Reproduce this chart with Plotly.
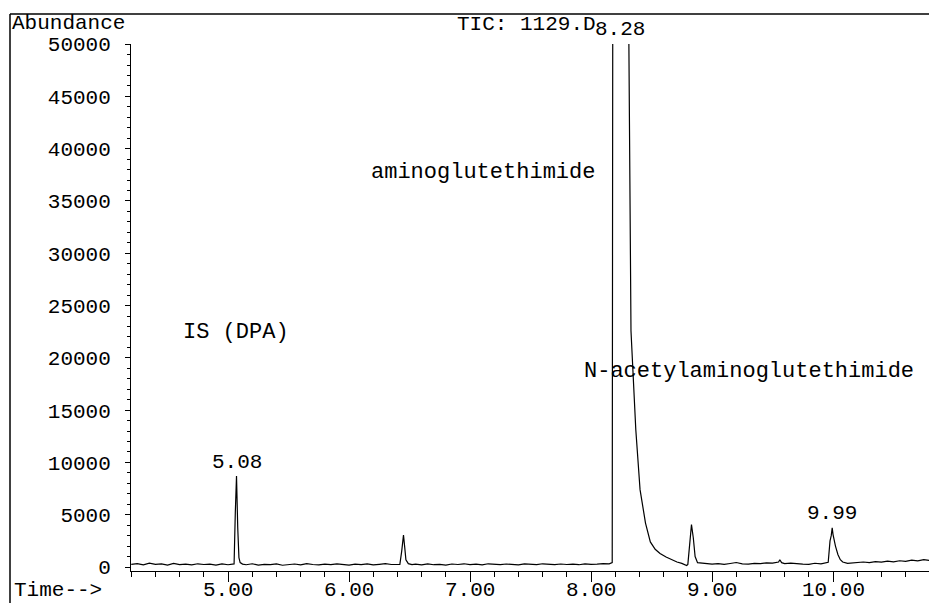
import plotly.graph_objects as go

# ---- data (retention time in min, abundance) ----
time_min = [
    4.20, 4.25, 4.30, 4.35, 4.40, 4.45, 4.50, 4.55, 4.60, 4.65, 4.70, 4.75, 4.80, 4.85, 4.90, 4.95,
    5.00, 5.04, 5.05, 5.06, 5.07, 5.08, 5.09, 5.10, 5.12, 5.15, 5.20, 5.25, 5.30, 5.35, 5.40, 5.45,
    5.50, 5.55, 5.60, 5.65, 5.70, 5.75, 5.80, 5.85, 5.90, 5.95, 6.00, 6.05, 6.10, 6.15, 6.20, 6.25,
    6.30, 6.35, 6.40, 6.42, 6.435, 6.45, 6.46, 6.47, 6.49, 6.52, 6.55, 6.60, 6.65, 6.70, 6.75, 6.80,
    6.85, 6.90, 6.95, 7.00, 7.05, 7.10, 7.15, 7.20, 7.25, 7.30, 7.35, 7.40, 7.45, 7.50, 7.55, 7.60,
    7.65, 7.70, 7.75, 7.80, 7.85, 7.90, 7.95, 8.00, 8.05, 8.10, 8.15, 8.175, 8.18, 8.19, 8.25, 8.28,
    8.29, 8.30, 8.33, 8.37, 8.405, 8.45, 8.49, 8.53, 8.57, 8.62, 8.67, 8.71, 8.75, 8.79, 8.80, 8.815,
    8.83, 8.845, 8.86, 8.88, 8.92, 8.96, 9.00, 9.05, 9.10, 9.15, 9.20, 9.25, 9.30, 9.35, 9.40, 9.45,
    9.50, 9.55, 9.56, 9.575, 9.60, 9.65, 9.70, 9.75, 9.80, 9.85, 9.90, 9.94, 9.96, 9.975, 9.985, 9.993,
    10.00, 10.02, 10.04, 10.06, 10.08, 10.12, 10.18, 10.25, 10.30, 10.35, 10.40, 10.45, 10.50, 10.55,
    10.60, 10.65, 10.70, 10.75, 10.80,
]
abundance = [
    250, 320, 210, 380, 260, 300, 190, 340, 230, 280, 200, 310, 240, 270, 180, 300,
    220, 260, 300, 5200, 8700, 3800, 900, 420, 280, 220, 310, 190, 260, 230, 300, 170,
    250, 290, 200, 330, 240, 210, 280, 230, 300, 260, 190, 270, 230, 300, 210, 260,
    320, 240, 200, 250, 1500, 3050, 1900, 700, 320, 230, 280, 200, 300, 220, 260, 180,
    290, 240, 310, 230, 270, 200, 310, 250, 220, 290, 240, 200, 300, 250, 230, 310,
    260, 220, 290, 240, 270, 220, 300, 250, 280, 330, 300, 420, 60000, 150000, 200000, 210000,
    150000, 70000, 22600, 13100, 7400, 4200, 2400, 1700, 1300, 950, 650, 480, 350, 150, 250, 2200,
    4050, 2800, 1000, 420, 350, 300, 280, 320, 260, 340, 430, 300, 280, 350, 330, 400,
    380, 480, 700, 420, 330, 380, 300, 280, 250, 360, 300, 420, 450, 2500, 3000, 3750,
    3100, 2000, 1200, 700, 480, 350, 400, 480, 430, 520, 470, 560, 500, 600,
    540, 650, 580, 700, 620,
]

y_ticks = [0, 5000, 10000, 15000, 20000, 25000, 30000, 35000, 40000, 45000, 50000]
y_tick_text = ["0", "5000", "10000", "15000", "20000", "25000", "30000", "35000", "40000", "45000", "50000"]
x_ticks = [5.0, 6.0, 7.0, 8.0, 9.0, 10.0]
x_tick_text = ["5.00", "6.00", "7.00", "8.00", "9.00", "10.00"]

peak_labels = [("5.08", 5.07), ("8.28", 8.24), ("9.99", 9.99)]

FONT = "Liberation Mono, Courier New, monospace"
TICK_SIZE = 21
TEXT_SIZE = 22
W, H = 929, 603
L, R, T, B = 131, 929, 44, 571  # plot area in pixels


def px(x):
    return (x - L) / (R - L)


def py(y):
    return (B - y) / (B - T)


fig = go.Figure()
fig.add_trace(go.Scatter(
    x=time_min, y=abundance, mode="lines",
    line=dict(color="black", width=1.2), hoverinfo="skip", showlegend=False,
))

fig.update_layout(
    width=W, height=H,
    margin=dict(l=L, r=W - R, t=T, b=H - B, pad=0, autoexpand=False),
    paper_bgcolor="white", plot_bgcolor="white",
    font=dict(family=FONT, size=TICK_SIZE, color="black"),
    showlegend=False,
)

fig.update_xaxes(
    range=[4.198, 10.793], automargin=False,
    tickvals=x_ticks, showticklabels=False,
    ticks="outside", ticklen=10, tickwidth=1, tickcolor="black",
    minor=dict(dtick=0.2, tick0=0, ticks="outside", ticklen=5, tickcolor="black"),
    showline=True, linecolor="black", linewidth=1,
    showgrid=False, zeroline=False,
)
fig.update_yaxes(
    range=[-380, 50010], automargin=False,
    tickvals=y_ticks, ticktext=y_tick_text,
    ticks="outside", ticklen=5, tickwidth=1, tickcolor="black",
    minor=dict(dtick=1000, tick0=0, ticks="outside", ticklen=3, tickcolor="black"),
    showline=True, linecolor="black", linewidth=1,
    showgrid=False, zeroline=False,
    tickfont=dict(family=FONT, size=TICK_SIZE, color="black"),
    ticklabelstandoff=10,
)

# x tick labels sit close under the axis, crossed by the long major ticks
for xv, xt in zip(x_ticks, x_tick_text):
    fig.add_annotation(text=xt, xref="x", yref="paper", x=xv, y=py(590),
                       xanchor="center", yanchor="middle", showarrow=False,
                       font=dict(family=FONT, size=TICK_SIZE, color="black"))

# frame lines (top and left border of the printout)
fig.add_shape(type="line", xref="paper", yref="paper",
              x0=px(10), x1=px(929), y0=py(14), y1=py(14),
              line=dict(color="black", width=1.5))
fig.add_shape(type="line", xref="paper", yref="paper",
              x0=px(10), x1=px(10), y0=py(14), y1=py(603),
              line=dict(color="black", width=1.5))


def text(t, x, y, anchor="center", size=TEXT_SIZE):
    fig.add_annotation(text=t, xref="paper", yref="paper", x=px(x), y=py(y),
                       xanchor=anchor, yanchor="middle", showarrow=False,
                       font=dict(family=FONT, size=size, color="black"))


text("Abundance", 10, 23, "left", TICK_SIZE)
text("TIC: 1129.D", 526, 25, size=TICK_SIZE)
text("Time-->", 12, 590, "left", TICK_SIZE)
text("aminoglutethimide", 369, 173, "left")
text("IS (DPA)", 236, 332)
text("N-acetylaminoglutethimide", 582, 372, "left")

label_y = {"5.08": 462, "8.28": 30, "9.99": 513}
for lab, t in peak_labels:
    fig.add_annotation(text=lab, xref="x", yref="paper", x=t, y=py(label_y[lab]),
                       xanchor="center", yanchor="middle", showarrow=False,
                       font=dict(family=FONT, size=TICK_SIZE, color="black"))

fig.write_html("out.html")
